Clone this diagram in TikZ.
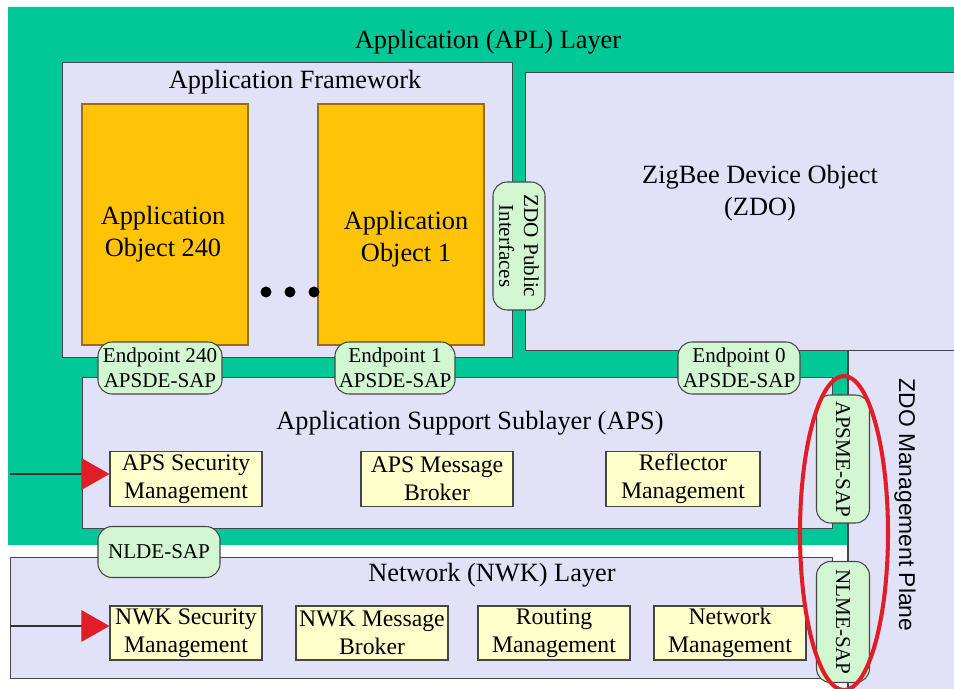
\documentclass[tikz,border=0pt]{standalone}
\usepackage{fontspec}
\setmainfont{Liberation Serif}
\setsansfont{Liberation Sans}
\usepackage{tikz}
\usetikzlibrary{arrows.meta, positioning, shapes.geometric}
\definecolor{aplgreen}{RGB}{0,200,150}
\definecolor{lavender}{RGB}{225,225,248}
\definecolor{objorange}{RGB}{255,196,8}
\definecolor{objedge}{RGB}{150,110,20}
\definecolor{funcyellow}{RGB}{255,255,204}
\definecolor{sapgreen}{RGB}{210,246,210}
\definecolor{edgegray}{RGB}{70,70,70}
\definecolor{ovalred}{RGB}{225,30,40}
\tikzset{%
	layerbox/.style={
		fill=lavender,
		draw=edgegray,
		line width=0.5pt
	},
	appobj/.style={
		fill=objorange,
		draw=objedge,
		line width=0.8pt
	},
	funcbox/.style={
		draw=edgegray,
		fill=funcyellow,
		line width=0.6pt,
		align=center,
		inner sep=0pt,
		font=\fontsize{13.5}{16}\selectfont
	},
	sapnode/.style={
		draw=edgegray,
		fill=sapgreen,
		line width=0.6pt,
		rounded corners=8pt,
		align=center,
		inner sep=0pt,
		font=\fontsize{12}{14}\selectfont
	},
	titletext/.style={
		align=center,
		inner sep=0pt,
		font=\fontsize{15}{18.5}\selectfont
	},
	redarrow/.style={
		draw=black!80,
		line width=0.7pt,
		-{Triangle[length=16pt,width=18pt,ovalred]}
	},
}

\begin{document}
\begin{tikzpicture}[x=0.02cm, y=-0.02cm]
	% One pixel of the layout
	\newcommand{\px}{0.02cm}
	\useasboundingbox (0,0) rectangle (954,689);
	
	% Draw the APL layer and the management plane
	\fill[aplgreen] (8,7) -- (954,7) -- (954,348) -- (848,348) -- (848,545) -- (8,545) -- cycle;
	\fill[lavender] (848,348) rectangle (954,689);
	\draw[edgegray, line width=0.6pt] (848,689) -- (848,348) -- (954,348);
	
	% Draw the framework, the ZDO and the lower layers
	\path[layerbox] (62,62) rectangle (512,357);
	\path[layerbox] (525,72) rectangle (956,350);
	\path[layerbox] (82,377) rectangle (832,528);
	\path[layerbox] (10,557) rectangle (832,678);
	
	% Draw the application objects
	\path[appobj] (82,104) rectangle (248,345);
	\path[appobj] (318,104) rectangle (484,345);
	\foreach \dx in {266,290,314} {
		\fill (\dx,292) circle (5.5);
	}
	
	% Draw the layer titles
	\node[titletext] (apltitle) at (488,42) {Application (APL) Layer};
	\node[titletext] (apftitle) at (295,82) {Application Framework};
	\node[titletext] (obj240) at (163,234) {Application\\Object 240};
	\node[titletext] (obj1) at (406,239) {Application\\Object 1};
	\node[titletext] (zdotitle) at (760,193) {ZigBee Device Object\\(ZDO)};
	\node[titletext] (apstitle) at (470,423) {Application Support Sublayer (APS)};
	\node[titletext] (nwktitle) at (492,575) {Network (NWK) Layer};
	\node[font=\sffamily\fontsize{13}{15}\selectfont, rotate=-90] (zdoplane) at (905,505) {ZDO Management Plane};
	
	% Draw the APS entities
	\foreach \name/\cx/\w/\txt in {apssec/186/152/{APS Security\\Management},
		apsbroker/437/152/{APS Message\\Broker},
		reflector/683/154/{Reflector\\Management}} {
		\node[funcbox, minimum width=\w*\px, minimum height=55*\px] (\name) at (\cx,479) {\txt};
	}
	
	% Draw the NWK entities
	\foreach \name/\cx/\txt in {nwksec/186/{NWK Security\\Management},
		nwkbroker/372/{NWK Message\\Broker},
		routing/554/{Routing\\Management},
		netmgmt/730/{Network\\Management}} {
		\node[funcbox, minimum width=152*\px, minimum height=54*\px] (\name) at (\cx,633) {\txt};
	}
	
	% Draw the service access points
	\foreach \name/\cx/\w/\txt in {ep240/160/124/{Endpoint 240},
		ep1/395/120/{Endpoint 1},
		ep0/739/122/{Endpoint 0}} {
		\node[sapnode, minimum width=\w*\px, minimum height=52*\px] (\name) at (\cx,368) {\txt\\APSDE-SAP};
	}
	\node[sapnode, minimum width=122*\px, minimum height=51*\px] (nldesap) at (159,552) {NLDE-SAP};
	\node[sapnode, rotate=-90, minimum width=128*\px, minimum height=52*\px] (zdopub) at (519,246) {ZDO Public\\Interfaces};
	\node[sapnode, rotate=-90, minimum width=128*\px, minimum height=53*\px] (apsmesap) at (843,459) {APSME-SAP};
	\node[sapnode, rotate=-90, minimum width=121*\px, minimum height=53*\px] (nlmesap) at (843,622) {NLME-SAP};
	
	% Draw the security inputs
	\coordinate (apsin) at (10,474);
	\coordinate (nwkin) at (10,626);
	\draw[redarrow] (apsin) -- (apsin -| apssec.west);
	\draw[redarrow] (nwkin) -- (nwkin -| nwksec.west);
	
	% Mark the management SAPs
	\draw[ovalred, line width=2.3pt] (844,533) ellipse [x radius=44*\px, y radius=157*\px];
	
\end{tikzpicture}
\end{document}
